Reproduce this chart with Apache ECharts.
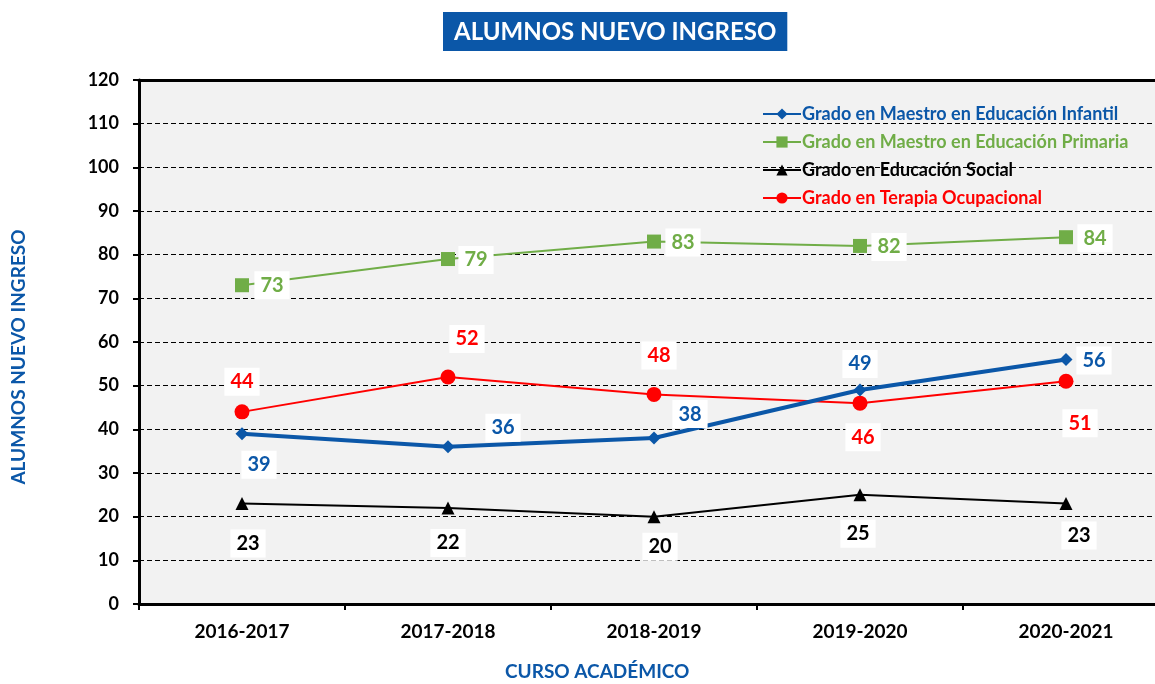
<!DOCTYPE html>
<html><head><meta charset="utf-8">
<script src="https://cdn.jsdelivr.net/npm/echarts@6/dist/echarts.min.js"></script>
<style>html,body{margin:0;padding:0;background:#fff;overflow:hidden;width:1155px;height:684px}#c{width:1169px;height:684px}</style>
</head><body><div id="c"></div>
<script>
const categories = ['2016-2017','2017-2018','2018-2019','2019-2020','2020-2021'];
const seriesNames = ['Grado en Maestro en Educación Infantil','Grado en Maestro en Educación Primaria','Grado en Educación Social','Grado en Terapia Ocupacional'];
const infantil = [39, 36, 38, 49, 56];
const primaria = [73, 79, 83, 82, 84];
const social = [23, 22, 20, 25, 23];
const terapia = [44, 52, 48, 46, 51];
const yTicks = [0,10,20,30,40,50,60,70,80,90,100,110,120];

// label offsets (style, not data)
const offInfantil = [[17,31],[55,-19],[36,-24],[0,-26],[28,1]];
const offPrimaria = [[30,0],[28,1],[29,1],[29,1],[29,1]];
const offSocial = [[6,40],[0,35],[6,30],[-2,39],[13,32]];
const offTerapia = [[0,-30],[19,-38],[5,-39],[3,34],[14,42]];

const FONT = 'Lato';
function mk(vals, offs){
  return vals.map((v,i)=>({value:v,label:{offset:offs[i]}}));
}
const lbl = c => ({show:true,position:'inside',color:c,fontFamily:FONT,fontWeight:'bold',fontSize:20,backgroundColor:'#fff',padding:[5,6,3,6]});

const chart = echarts.init(document.getElementById('c'));
chart.setOption({
  backgroundColor:'#fff',
  animation:false,
  title:{text:'ALUMNOS NUEVO INGRESO',left:443,top:12,backgroundColor:'#0b57a8',padding:[8,11,7,11],
    textStyle:{color:'#fff',fontFamily:FONT,fontWeight:'bold',fontSize:24}},
  legend:{orient:'vertical',left:757,top:100,itemGap:10,itemWidth:38,itemHeight:14,
    data:seriesNames.map((n,i)=>({name:n,textStyle:{color:['#0b57a8','#70ad47','#000','#ff0000'][i]}})),
    textStyle:{fontFamily:FONT,fontWeight:'bold',fontSize:18,padding:[0,0,0,-4]}},
  grid:{left:139,top:80,right:0,bottom:80,show:true,backgroundColor:'#f2f2f2',borderWidth:0},
  graphic:[
    {type:'text',left:505,top:662,style:{text:'CURSO ACADÉMICO',fill:'#0b57a8',font:'bold 19px '+FONT}},
    {type:'text',x:9,y:357,rotation:Math.PI/2,style:{text:'ALUMNOS NUEVO INGRESO',fill:'#0b57a8',font:'bold 19px '+FONT,align:'center',verticalAlign:'top'}}
  ],
  xAxis:[{type:'category',data:categories,boundaryGap:true,
    axisLine:{lineStyle:{color:'#000',width:3}},
    axisTick:{show:true,length:6,lineStyle:{color:'#000',width:2}},
    axisLabel:{color:'#000',fontFamily:FONT,fontWeight:'bold',fontSize:19,margin:18}},
    {type:'category',data:categories,position:'top',axisLine:{show:true,lineStyle:{color:'#000',width:3}},axisTick:{show:false},axisLabel:{show:false}}],
  yAxis:{type:'value',min:0,max:120,interval:10,
    axisLine:{show:true,lineStyle:{color:'#000',width:3}},
    axisTick:{show:true,length:6,lineStyle:{color:'#000',width:2}},
    axisLabel:{color:'#000',fontFamily:FONT,fontWeight:'bold',fontSize:18,margin:20,
      formatter:v=>yTicks.includes(v)?String(v):''},
    splitLine:{show:true,lineStyle:{color:'#000',type:[5,3],width:1}}},
  series:[
    {name:seriesNames[0],type:'line',data:mk(infantil,offInfantil),symbol:'diamond',symbolSize:13,
      itemStyle:{color:'#0b57a8'},lineStyle:{color:'#0b57a8',width:4},label:lbl('#0b57a8'),z:5},
    {name:seriesNames[1],type:'line',data:mk(primaria,offPrimaria),symbol:'rect',symbolSize:14,
      itemStyle:{color:'#70ad47'},lineStyle:{color:'#70ad47',width:2},label:lbl('#70ad47'),z:4},
    {name:seriesNames[2],type:'line',data:mk(social,offSocial),symbol:'triangle',symbolSize:13,
      itemStyle:{color:'#000'},lineStyle:{color:'#000',width:2},label:lbl('#000'),z:3},
    {name:seriesNames[3],type:'line',data:mk(terapia,offTerapia),symbol:'circle',symbolSize:15,
      itemStyle:{color:'#ff0000'},lineStyle:{color:'#ff0000',width:2},label:lbl('#ff0000'),z:4}
  ]
});
</script></body></html>
